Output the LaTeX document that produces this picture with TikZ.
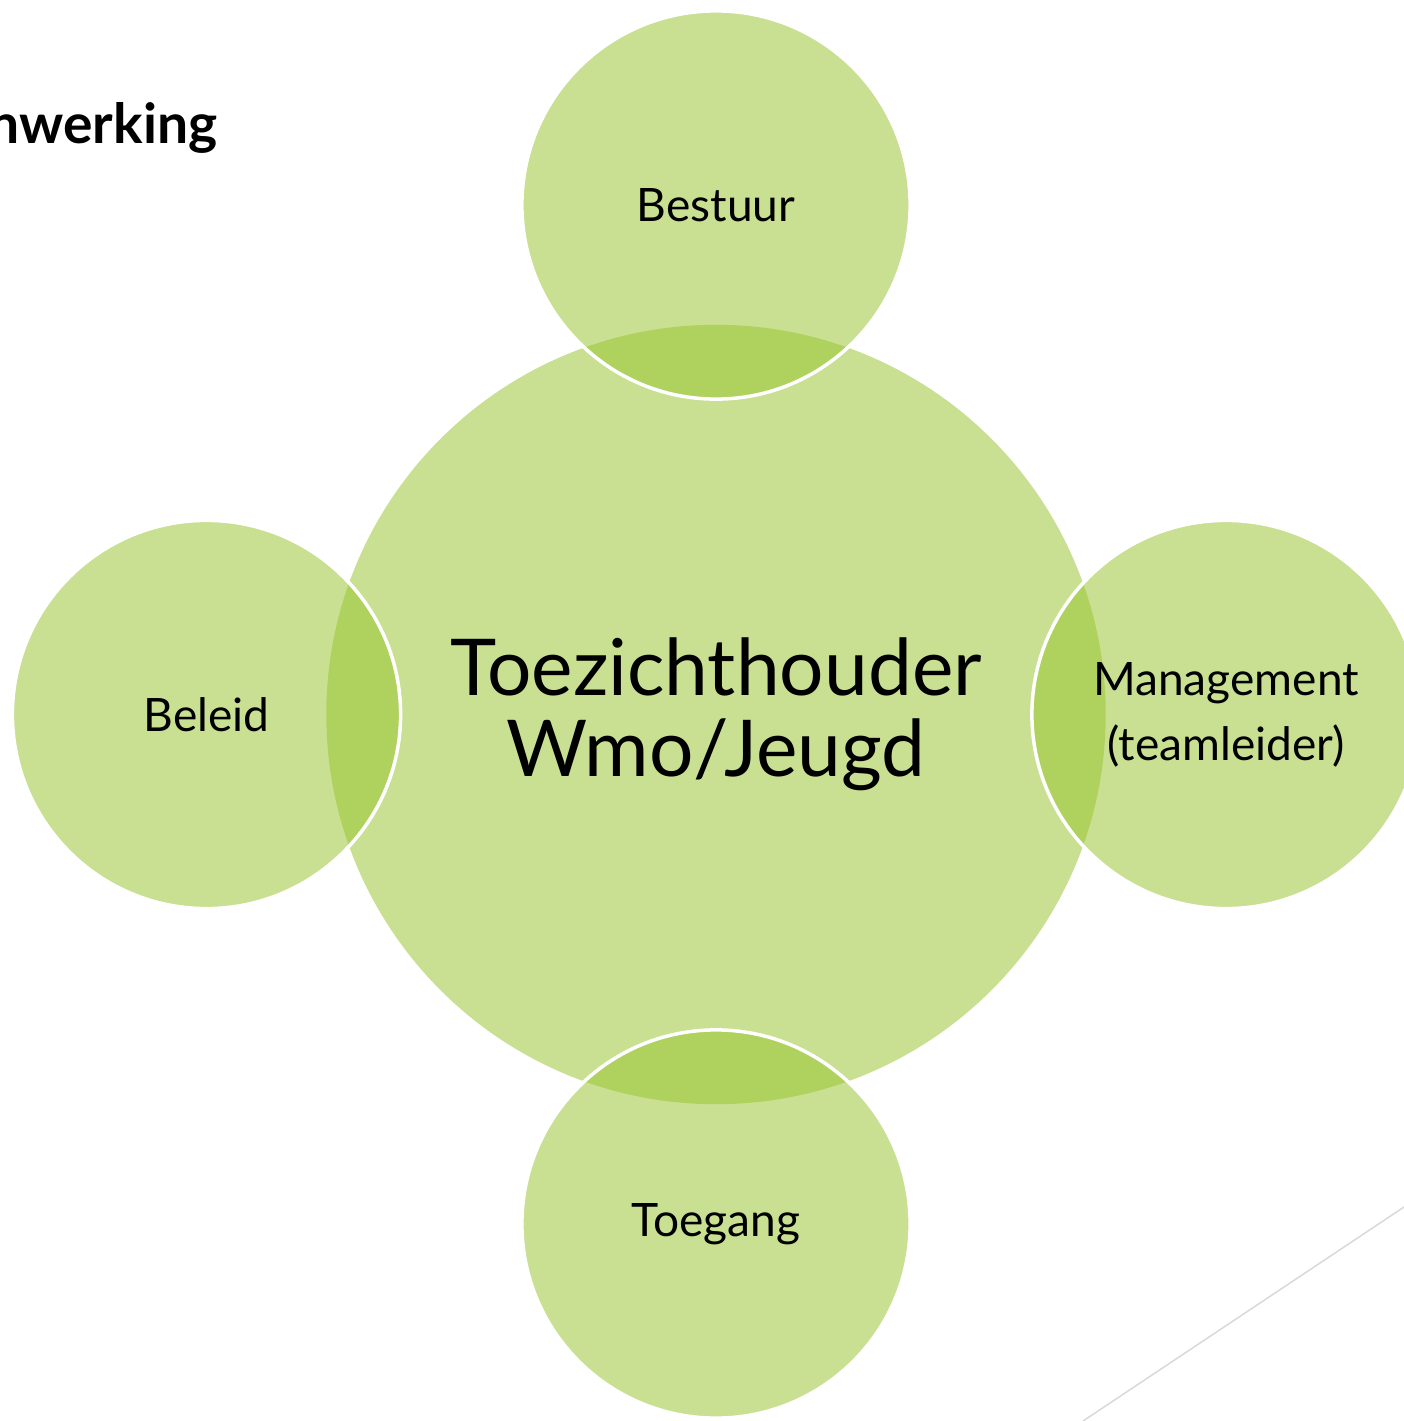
\documentclass[tikz,border=0pt]{standalone}
\usepackage{fontspec}
\setmainfont{Lato}
\definecolor{leaf}{RGB}{151,195,47}
\definecolor{rule}{RGB}{217,217,217}
\begin{document}
\begin{tikzpicture}[x=0.01cm,y=-0.01cm,
  bubble/.style={circle, inner sep=0pt, outer sep=0pt, fill=leaf, fill opacity=0.52, text opacity=1, align=center, text=black},
  sat/.style={bubble, minimum size=3.88cm, draw=white, draw opacity=1, line width=0.035cm, font=\fontsize{13.1}{18.5}\selectfont},
  hub/.style={bubble, minimum size=7.79cm, font=\fontsize{22.3}{23}\selectfont},
  heading/.style={anchor=base east, inner sep=0pt, font=\bfseries\fontsize{15.7}{18}\selectfont},
  deco/.style={draw=rule, line width=0.015cm}]
\useasboundingbox (0,0) rectangle (1404,1421);
\clip (0,0) rectangle (1404,1421);
\node[hub] (hub) at (716,714.5) {Toezichthouder\\Wmo/Jeugd};
\node[sat] (top) at (716,205) {Bestuur};
\node[sat] (left) at (206.5,714.5) {Beleid};
\node[sat] (right) at (1226,714.5) {Management\\(teamleider)};
\node[sat] (bottom) at (716,1224) {Toegang};
\node[heading] (title) at (218,143) {nwerking};
\coordinate (l1) at (1404,1207);
\coordinate (l2) at (1083,1421);
\draw[deco] (l1) -- (l2);
\end{tikzpicture}
\end{document}
